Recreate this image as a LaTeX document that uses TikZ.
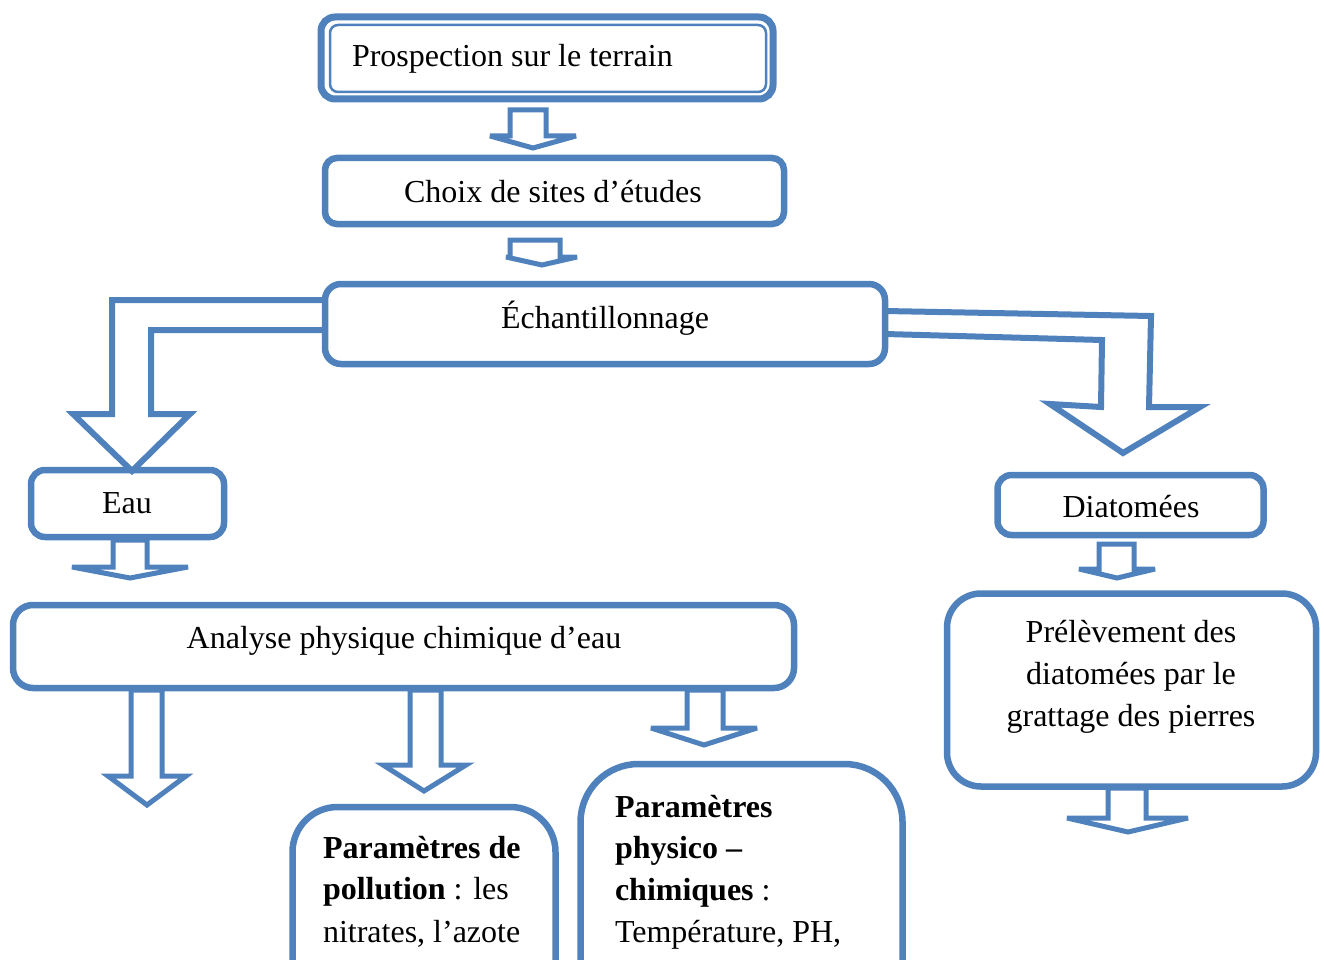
\documentclass[tikz,border=0pt]{standalone}
\usepackage{fontspec}
\setmainfont{Liberation Serif}
\definecolor{boxblue}{RGB}{79,129,189}
\begin{document}
\begin{tikzpicture}[x=1pt,y=-1pt,
  box/.style={draw=boxblue, line width=6.5pt, fill=white, inner sep=0pt, outer sep=0pt},
  barrow/.style={draw=boxblue, line width=5pt, fill=white, line join=miter, miter limit=4},
  bent/.style={draw=boxblue, line width=6pt, line join=miter, miter limit=4},
  txt/.style={font=\fontsize{32}{40}\selectfont, inner sep=0pt, outer sep=0pt}]
\useasboundingbox (0,0) rectangle (1324,960);
\clip (0,0) rectangle (1324,960);

% ---- boxes ----
\node[box, line width=7pt, rounded corners=14pt, minimum width=452pt, minimum height=82pt] (prosp) at (547,58) {};
\node[draw=boxblue, line width=2.5pt, rounded corners=8pt, inner sep=0pt, minimum width=436pt, minimum height=67pt] (prospin) at (548,58.5) {};
\node[box, rounded corners=12pt, minimum width=459pt, minimum height=66pt] (choix) at (554.5,191) {};
\node[box, rounded corners=16pt, minimum width=560pt, minimum height=80pt] (echant) at (605,324) {};
\node[box, rounded corners=14pt, minimum width=193pt, minimum height=67pt] (eau) at (127.5,503.5) {};
\node[box, rounded corners=20pt, minimum width=781pt, minimum height=83pt] (analyse) at (403.5,646.5) {};
\node[box, rounded corners=14pt, minimum width=266pt, minimum height=60pt] (diat) at (1130.5,505) {};
\node[box, rounded corners=34pt, minimum width=369pt, minimum height=193pt] (prelev) at (1131.5,690) {};
\node[box, rounded corners=45pt, minimum width=263pt, minimum height=400pt, anchor=north] (pollu) at (424,807) {};
\node[box, rounded corners=58pt, minimum width=322pt, minimum height=400pt, anchor=north] (physico) at (741.5,764) {};

% ---- texts ----
\node[txt, anchor=base west] (tprosp) at (352,67) {Prospection sur le terrain};
\node[txt, anchor=base] (tchoix) at (553,202) {Choix de sites d’études};
\node[txt, anchor=base] (techant) at (605,328) {Échantillonnage};
\node[txt, anchor=base] (teau) at (127,513) {Eau};
\node[txt, anchor=base] (tanalyse) at (404,648) {Analyse physique chimique d’eau};
\node[txt, anchor=base] (tdiat) at (1131,517) {Diatomées};
\node[txt, anchor=base] (tprel1) at (1131,642) {Prélèvement des};
\node[txt, anchor=base] (tprel2) at (1131,684) {diatomées par le};
\node[txt, anchor=base] (tprel3) at (1131,726) {grattage des pierres};
\node[txt, anchor=base west] (tpol1) at (323,858) {\bfseries Paramètres de};
\node[txt, anchor=base west] (tpol2) at (323,899) {{\bfseries pollution} : les};
\node[txt, anchor=base west] (tpol3) at (323,942) {nitrates, l’azote};
\node[txt, anchor=base west] (tphy1) at (615,817) {\bfseries Paramètres};
\node[txt, anchor=base west] (tphy2) at (615,858) {\bfseries physico –};
\node[txt, anchor=base west] (tphy3) at (615,900) {{\bfseries chimiques} :};
\node[txt, anchor=base west] (tphy4) at (615,942) {Température, PH,};

% ---- block arrows ----
% prospection -> choix
\draw[barrow] (510,110) -- (546,110) -- (546,136) -- (576,136) -- (533,148) -- (490,136) -- (510,136) -- cycle;
% choix -> echantillonnage
\draw[barrow] (510,240) -- (560,240) -- (560,257) -- (577,257) -- (542,265) -- (506,257) -- (510,257) -- cycle;
% echantillonnage -> eau (bent)
\draw[bent] (echant.west |- 0,300) -- (112,300) -- (112,414) -- (73,414) -- (132,471) -- (190,414) -- (151,414) -- (151,330) -- (echant.west |- 0,330);
% echantillonnage -> diatomees (bent)
\draw[bent] (echant.east |- 0,311) -- (1151,316) -- (1149,407) -- (1200,407) -- (1123,453) -- (1050,404) -- (1101,407) -- (1102,340) -- (echant.east |- 0,334);
% eau -> analyse
\draw[barrow] (113,540) -- (147,540) -- (147,567) -- (188,567) -- (130,578) -- (72,567) -- (113,567) -- cycle;
% analyse -> (left, open)
\draw[barrow] (131,690) -- (162,690) -- (162,776) -- (186,776) -- (147,805) -- (108,776) -- (131,776) -- cycle;
% analyse -> pollution
\draw[barrow] (410,690) -- (441,690) -- (441,765) -- (466,765) -- (424,791) -- (383,765) -- (410,765) -- cycle;
% analyse -> physico
\draw[barrow] (687,690) -- (723,690) -- (723,728) -- (757,728) -- (704,745) -- (651,728) -- (687,728) -- cycle;
% diatomees -> prelevement
\draw[barrow] (1099,544) -- (1134,544) -- (1134,569) -- (1155,569) -- (1117,578) -- (1079,569) -- (1099,569) -- cycle;
% prelevement -> (open)
\draw[barrow] (1108,788) -- (1146,788) -- (1146,818) -- (1188,818) -- (1128,832) -- (1067,818) -- (1108,818) -- cycle;
\end{tikzpicture}
\end{document}
